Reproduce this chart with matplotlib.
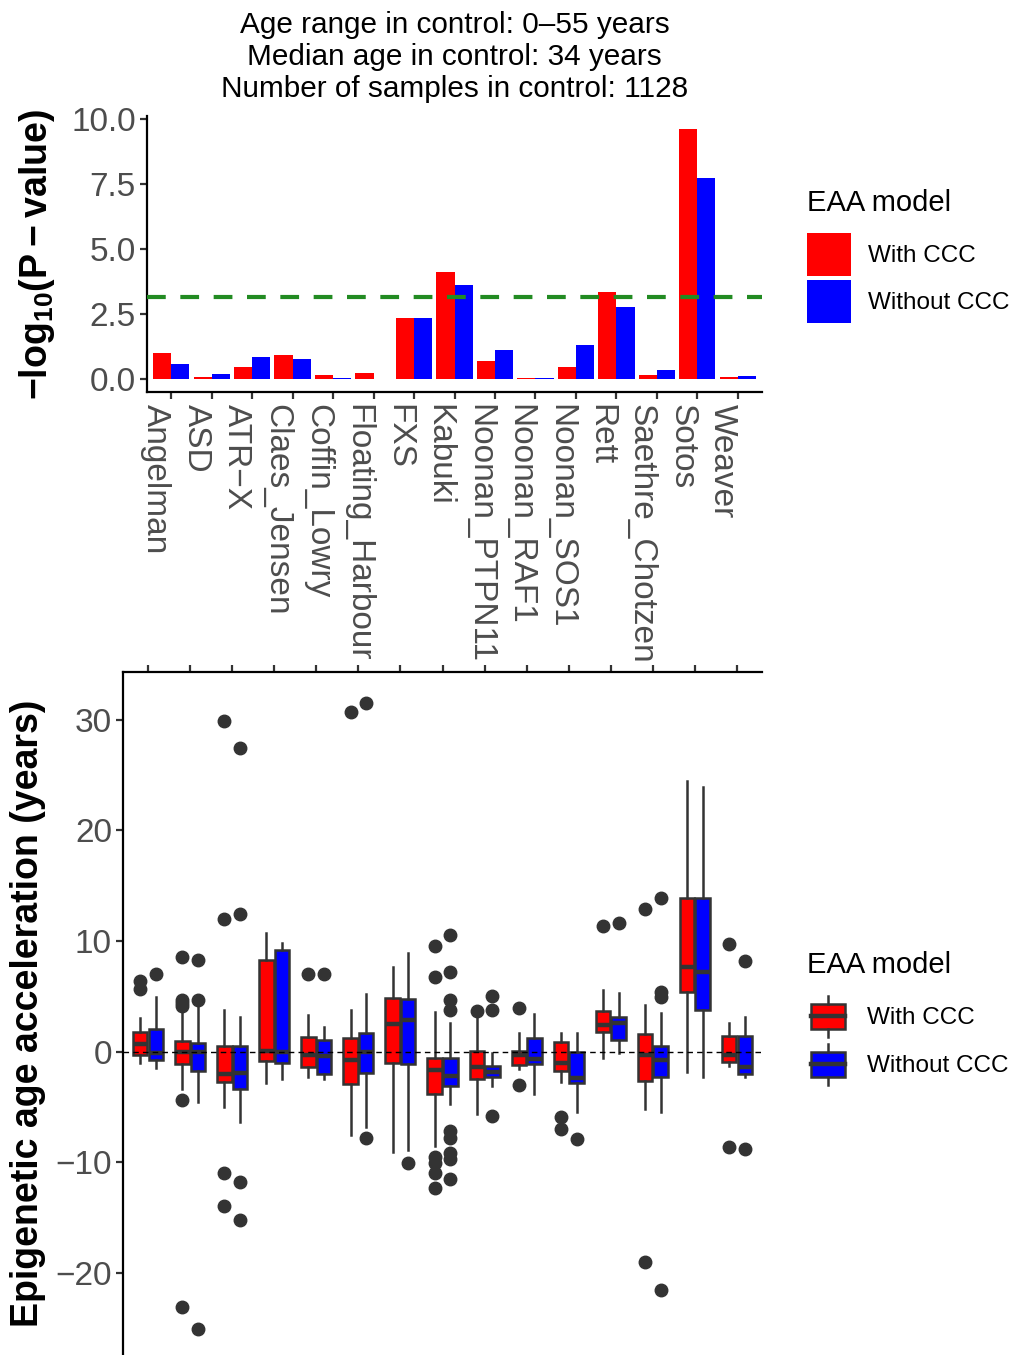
import matplotlib
matplotlib.use("Agg")
import matplotlib.pyplot as plt
from matplotlib.patches import Patch, Rectangle
from matplotlib.lines import Line2D
from matplotlib.legend_handler import HandlerBase
import numpy as np

plt.rcParams['font.family'] = ['Liberation Sans', 'DejaVu Sans']
plt.rcParams['mathtext.fontset'] = 'custom'
plt.rcParams['mathtext.rm'] = 'Liberation Sans'
plt.rcParams['mathtext.bf'] = 'Liberation Sans:bold'
plt.rcParams['axes.unicode_minus'] = True

# ---------------- data ----------------
categories = ["Angelman", "ASD", "ATR\u2212X", "Claes_Jensen", "Coffin_Lowry",
              "Floating_Harbour", "FXS", "Kabuki", "Noonan_PTPN11", "Noonan_RAF1",
              "Noonan_SOS1", "Rett", "Saethre_Chotzen", "Sotos", "Weaver"]
models = ["With CCC", "Without CCC"]
colors = ["#FF0000", "#0000FF"]

# -log10(P-value)
pval_with = [1.01, 0.09, 0.47, 0.94, 0.17, 0.24, 2.36, 4.13, 0.70, 0.05, 0.47, 3.36, 0.17, 9.63, 0.09]
pval_without = [0.59, 0.20, 0.86, 0.78, 0.05, 0.02, 2.36, 3.63, 1.13, 0.03, 1.32, 2.78, 0.36, 7.75, 0.13]
threshold = 3.18

# Box statistics (EAA, years) - With CCC
w_q1 = [-0.31, -1.15, -2.72, -0.85, -1.42, -2.94, -1.06, -3.83, -2.48, -1.21, -1.72, 1.80, -2.63, 5.36, -0.91]
w_med = [0.69, 0.00, -2.02, 0.10, -0.30, -0.76, 2.46, -1.66, -1.36, -0.31, -1.00, 2.40, -0.30, 7.67, -0.30]
w_q3 = [1.74, 0.96, 0.50, 8.28, 1.29, 1.25, 4.81, -0.55, 0.05, 0.08, 0.84, 3.70, 1.59, 13.85, 1.40]
w_lo = [-1.06, -3.40, -5.00, -2.87, -2.27, -7.53, -9.04, -8.53, -5.64, -1.60, -2.72, -0.60, -5.19, -1.81, -1.30]
w_hi = [3.00, 3.76, 3.76, 10.75, 3.30, 3.76, 7.67, 3.60, 3.15, 1.65, 1.71, 5.56, 4.20, 24.47, 2.55]
w_fliers = [[6.4, 5.7], [8.58, 4.66, 4.4, 4.1, -4.37, -23.1], [29.9, 11.95, -10.97, -13.9], [],
            [6.98], [30.7], [], [9.57, 6.77, -9.5, -10.1, -11.0, -12.3], [3.7],
            [3.97, -3.02], [-5.94, -7.02], [11.35], [12.88, -18.98], [], [9.7, -8.59]]

# Box statistics - Without CCC
o_q1 = [-0.78, -1.75, -3.41, -1.06, -2.02, -1.90, -1.12, -3.08, -2.32, -1.12, -2.87, 1.05, -2.33, 3.76, -2.03]
o_med = [-0.10, 0.00, -1.96, -0.05, -0.40, 0.00, 2.90, -2.17, -1.81, -0.64, -2.41, 2.60, -0.76, 7.16, -1.36]
o_q3 = [2.04, 0.74, 0.50, 9.18, 1.10, 1.70, 4.72, -0.55, -1.30, 1.26, 0.00, 3.16, 0.50, 13.90, 1.46]
o_lo = [-1.51, -4.50, -6.33, -2.50, -2.48, -6.78, -8.89, -4.74, -3.10, -3.83, -5.43, -0.10, -5.43, -2.27, -2.27]
o_hi = [4.96, 4.06, 3.15, 9.84, 2.25, 5.17, 8.88, 2.60, -0.16, 3.37, 1.65, 5.30, 3.45, 23.93, 3.09]
o_fliers = [[6.98], [8.28, 4.70, -25.06], [27.4, 12.4, -11.75, -15.2], [],
            [6.98], [31.46, -7.83], [-10.1], [10.54, 7.16, 4.66, 3.81, -7.15, -7.83, -9.19, -9.73, -11.5],
            [5.02, 3.76, -5.79], [], [-7.93], [11.6], [13.85, 5.42, 4.96, -21.5], [], [8.2, -8.8]]

title_lines = ["Age range in control: 0\u201355 years",
               "Median age in control: 34 years",
               "Number of samples in control: 1128"]

# ---------------- figure ----------------
W, H = 1013, 1355
fig = plt.figure(figsize=(W / 100, H / 100), dpi=100)

def fx(px):
    return px / W

def fy(py):
    return 1 - py / H

tick_col = "#4D4D4D"
dark = "#333333"
fs_tick = 24

# ---- top panel ----
ax1 = fig.add_axes([fx(147), fy(391.7), fx(762) - fx(147), fy(116.4) - fy(391.7)])
x = np.arange(len(categories))
bw = 0.45
ax1.bar(x - bw / 2, pval_with, width=bw, color=colors[0], label=models[0])
ax1.bar(x + bw / 2, pval_without, width=bw, color=colors[1], label=models[1])
ax1.axhline(threshold, color="#228B22", lw=3, ls=(0, (4.5, 3.5)), zorder=5)
ax1.set_xlim(-0.6, len(categories) - 0.4)
ax1.set_ylim(-0.48, 10.11)
ax1.set_yticks([0, 2.5, 5, 7.5, 10])
ax1.set_yticklabels(["0.0", "2.5", "5.0", "7.5", "10.0"])
ax1.set_xticks(x)
ax1.set_xticklabels(categories, rotation=270, ha="right", va="top", rotation_mode="default")
for s in ["top", "right"]:
    ax1.spines[s].set_visible(False)
for s in ["left", "bottom"]:
    ax1.spines[s].set_linewidth(1.6)
    ax1.spines[s].set_color("black")
ax1.tick_params(axis="both", labelsize=fs_tick, labelcolor=tick_col, color=dark,
                length=5, width=1.6)
ax1.tick_params(axis="x", pad=4)
ax1.tick_params(axis="y", pad=3)
ax1.set_ylabel(r"$\mathbf{-log_{10}(P-value)}$", fontsize=27, labelpad=10)
ax1.set_title("\n".join(title_lines), fontsize=21.4, pad=14, linespacing=1.17)

leg1 = fig.legend(handles=[Patch(facecolor=colors[0]), Patch(facecolor=colors[1])],
                  labels=models, loc="upper left", bbox_to_anchor=(fx(800), fy(182)),
                  bbox_transform=fig.transFigure, frameon=False, title="EAA model",
                  title_fontsize=21, fontsize=17.5, handlelength=1.78, handleheight=2.3,
                  labelspacing=0.2, handletextpad=0.7, borderpad=0.0, borderaxespad=0.3,
                  alignment="left")
leg1._legend_box.sep = 11.5

# ---- bottom panel ----
ax2 = fig.add_axes([fx(123), 0, fx(762) - fx(123), fy(672)])
off = 0.1875
bxw = 0.34

def mkstats(q1, med, q3, lo, hi, fl):
    return [dict(q1=a, med=b, q3=c, whislo=d, whishi=e, fliers=f)
            for a, b, c, d, e, f in zip(q1, med, q3, lo, hi, fl)]

for stats, pos, col in [(mkstats(w_q1, w_med, w_q3, w_lo, w_hi, w_fliers), x - off, colors[0]),
                        (mkstats(o_q1, o_med, o_q3, o_lo, o_hi, o_fliers), x + off, colors[1])]:
    ax2.bxp(stats, positions=pos, widths=bxw, patch_artist=True, showcaps=False,
            boxprops=dict(facecolor=col, edgecolor=dark, linewidth=1.8),
            medianprops=dict(color=dark, linewidth=3.2, solid_capstyle="butt"),
            whiskerprops=dict(color=dark, linewidth=1.8),
            flierprops=dict(marker="o", markerfacecolor=dark, markeredgecolor=dark,
                            markersize=9, linestyle="none"),
            manage_ticks=False)

ax2.axhline(0, color="black", lw=1.0, ls=(0, (4, 3)), zorder=6)
ax2.set_xlim(-0.6, len(categories) - 0.4)
ax2.set_ylim(-27.4, 34.3)
ax2.set_yticks([-20, -10, 0, 10, 20, 30])
ax2.set_xticks(x)
ax2.xaxis.tick_top()
ax2.tick_params(axis="x", labeltop=False, labelbottom=False, top=True, bottom=False)
for s in ["bottom", "right"]:
    ax2.spines[s].set_visible(False)
for s in ["left", "top"]:
    ax2.spines[s].set_linewidth(1.6)
    ax2.spines[s].set_color("black")
ax2.tick_params(axis="both", labelsize=fs_tick, labelcolor=tick_col, color=dark,
                length=5, width=1.6)
ax2.tick_params(axis="y", pad=3)
ax2.set_ylabel("Epigenetic age acceleration (years)", fontsize=27, fontweight="bold", labelpad=7)


class BoxHandler(HandlerBase):
    def create_artists(self, legend, orig_handle, xdescent, ydescent, width, height,
                       fontsize, trans):
        col = orig_handle.get_facecolor()
        x0, y0 = -xdescent, -ydescent
        rect = Rectangle((x0 + 0.1 * width, y0 + 0.19 * height), 0.86 * width, 0.62 * height,
                         facecolor=col, edgecolor=dark, lw=1.8, transform=trans)
        cx = x0 + 0.53 * width
        wl1 = Line2D([cx, cx], [y0, y0 + 0.19 * height], color=dark, lw=1.8, transform=trans)
        wl2 = Line2D([cx, cx], [y0 + 0.81 * height, y0 + height], color=dark, lw=1.8, transform=trans)
        med = Line2D([x0 + 0.1 * width, x0 + 0.96 * width], [y0 + height / 2] * 2,
                     color=dark, lw=3.2, transform=trans)
        return [rect, wl1, wl2, med]


h2 = [Patch(facecolor=colors[0]), Patch(facecolor=colors[1])]
leg2 = fig.legend(handles=h2, labels=models, loc="upper left", bbox_to_anchor=(fx(800), fy(944)),
                  bbox_transform=fig.transFigure, frameon=False, title="EAA model",
                  title_fontsize=21, fontsize=17.5, handlelength=1.6, handleheight=2.2,
                  labelspacing=0.3, handletextpad=0.85, borderpad=0.0, borderaxespad=0.3,
                  alignment="left", handler_map={Patch: BoxHandler()})
leg2._legend_box.sep = 12

fig.savefig("out.png", dpi=100)
